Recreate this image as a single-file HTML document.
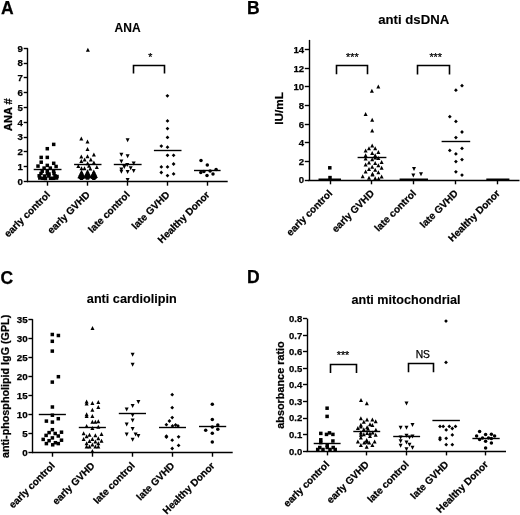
<!DOCTYPE html>
<html><head><meta charset="utf-8"><title>Figure</title>
<style>html,body{margin:0;padding:0;background:#fff;}svg{display:block;will-change:transform;}text{stroke:#000;stroke-width:0.25px;}.t{stroke-width:0.12px;}</style>
</head><body>
<svg width="520" height="515" viewBox="0 0 520 515" font-family="Liberation Sans, sans-serif">
<rect width="520" height="515" fill="#fff"/>
<line x1="27.50" y1="48.20" x2="27.50" y2="182.10" stroke="#000" stroke-width="1.4"/>
<line x1="27.20" y1="181.50" x2="227.70" y2="181.50" stroke="#000" stroke-width="1.4"/>
<line x1="23.70" y1="181.50" x2="27.90" y2="181.50" stroke="#000" stroke-width="1.4"/>
<text x="23.00" y="184.89" font-size="9.7" font-weight="bold" text-anchor="end" >0</text>
<line x1="23.70" y1="166.50" x2="27.90" y2="166.50" stroke="#000" stroke-width="1.4"/>
<text x="23.00" y="170.09" font-size="9.7" font-weight="bold" text-anchor="end" >1</text>
<line x1="23.70" y1="151.50" x2="27.90" y2="151.50" stroke="#000" stroke-width="1.4"/>
<text x="23.00" y="155.29" font-size="9.7" font-weight="bold" text-anchor="end" >2</text>
<line x1="23.70" y1="137.50" x2="27.90" y2="137.50" stroke="#000" stroke-width="1.4"/>
<text x="23.00" y="140.49" font-size="9.7" font-weight="bold" text-anchor="end" >3</text>
<line x1="23.70" y1="122.50" x2="27.90" y2="122.50" stroke="#000" stroke-width="1.4"/>
<text x="23.00" y="125.69" font-size="9.7" font-weight="bold" text-anchor="end" >4</text>
<line x1="23.70" y1="107.50" x2="27.90" y2="107.50" stroke="#000" stroke-width="1.4"/>
<text x="23.00" y="110.89" font-size="9.7" font-weight="bold" text-anchor="end" >5</text>
<line x1="23.70" y1="92.50" x2="27.90" y2="92.50" stroke="#000" stroke-width="1.4"/>
<text x="23.00" y="96.09" font-size="9.7" font-weight="bold" text-anchor="end" >6</text>
<line x1="23.70" y1="77.50" x2="27.90" y2="77.50" stroke="#000" stroke-width="1.4"/>
<text x="23.00" y="81.29" font-size="9.7" font-weight="bold" text-anchor="end" >7</text>
<line x1="23.70" y1="63.50" x2="27.90" y2="63.50" stroke="#000" stroke-width="1.4"/>
<text x="23.00" y="66.49" font-size="9.7" font-weight="bold" text-anchor="end" >8</text>
<line x1="23.70" y1="48.50" x2="27.90" y2="48.50" stroke="#000" stroke-width="1.4"/>
<text x="23.00" y="51.69" font-size="9.7" font-weight="bold" text-anchor="end" >9</text>
<line x1="47.50" y1="181.40" x2="47.50" y2="185.70" stroke="#000" stroke-width="1.4"/>
<line x1="87.50" y1="181.40" x2="87.50" y2="185.70" stroke="#000" stroke-width="1.4"/>
<line x1="127.50" y1="181.40" x2="127.50" y2="185.70" stroke="#000" stroke-width="1.4"/>
<line x1="167.50" y1="181.40" x2="167.50" y2="185.70" stroke="#000" stroke-width="1.4"/>
<line x1="207.50" y1="181.40" x2="207.50" y2="185.70" stroke="#000" stroke-width="1.4"/>
<text x="1.00" y="13.70" font-size="17.5" font-weight="bold" text-anchor="start" >A</text>
<text x="127.60" y="31.90" font-size="12" font-weight="bold" text-anchor="middle" textLength="26" lengthAdjust="spacingAndGlyphs"  class="t">ANA</text>
<text transform="translate(11.90,114.60) rotate(-90)" font-size="11" font-weight="bold" text-anchor="middle" >ANA #</text>
<path d="M133.50 73.60V65.50H164.50V73.60" fill="none" stroke="#000" stroke-width="1.6"/>
<text x="150.20" y="60.60" font-size="10.5" font-weight="normal" text-anchor="middle" >*</text>
<text transform="translate(50.70,195.40) rotate(-45)" font-size="10" font-weight="bold" text-anchor="end" >early control</text>
<text transform="translate(90.50,195.40) rotate(-45)" font-size="10" font-weight="bold" text-anchor="end" >early GVHD</text>
<text transform="translate(130.40,195.40) rotate(-45)" font-size="10" font-weight="bold" text-anchor="end" >late control</text>
<text transform="translate(170.30,195.40) rotate(-45)" font-size="10" font-weight="bold" text-anchor="end" >late GVHD</text>
<text transform="translate(210.20,195.40) rotate(-45)" font-size="10" font-weight="bold" text-anchor="end" >Healthy Donor</text>
<line x1="309.50" y1="39.90" x2="309.50" y2="180.70" stroke="#000" stroke-width="1.4"/>
<line x1="308.30" y1="180.50" x2="519.50" y2="180.50" stroke="#000" stroke-width="1.4"/>
<line x1="304.80" y1="180.50" x2="309.00" y2="180.50" stroke="#000" stroke-width="1.4"/>
<text x="304.10" y="183.46" font-size="9.6" font-weight="bold" text-anchor="end" >0</text>
<line x1="304.80" y1="161.50" x2="309.00" y2="161.50" stroke="#000" stroke-width="1.4"/>
<text x="304.10" y="164.84" font-size="9.6" font-weight="bold" text-anchor="end" >2</text>
<line x1="304.80" y1="142.50" x2="309.00" y2="142.50" stroke="#000" stroke-width="1.4"/>
<text x="304.10" y="146.22" font-size="9.6" font-weight="bold" text-anchor="end" >4</text>
<line x1="304.80" y1="124.50" x2="309.00" y2="124.50" stroke="#000" stroke-width="1.4"/>
<text x="304.10" y="127.60" font-size="9.6" font-weight="bold" text-anchor="end" >6</text>
<line x1="304.80" y1="105.50" x2="309.00" y2="105.50" stroke="#000" stroke-width="1.4"/>
<text x="304.10" y="108.98" font-size="9.6" font-weight="bold" text-anchor="end" >8</text>
<line x1="304.80" y1="86.50" x2="309.00" y2="86.50" stroke="#000" stroke-width="1.4"/>
<text x="304.10" y="90.36" font-size="9.6" font-weight="bold" text-anchor="end" >10</text>
<line x1="304.80" y1="68.50" x2="309.00" y2="68.50" stroke="#000" stroke-width="1.4"/>
<text x="304.10" y="71.74" font-size="9.6" font-weight="bold" text-anchor="end" >12</text>
<line x1="304.80" y1="49.50" x2="309.00" y2="49.50" stroke="#000" stroke-width="1.4"/>
<text x="304.10" y="53.12" font-size="9.6" font-weight="bold" text-anchor="end" >14</text>
<line x1="330.50" y1="180.00" x2="330.50" y2="184.30" stroke="#000" stroke-width="1.4"/>
<line x1="371.50" y1="180.00" x2="371.50" y2="184.30" stroke="#000" stroke-width="1.4"/>
<line x1="413.50" y1="180.00" x2="413.50" y2="184.30" stroke="#000" stroke-width="1.4"/>
<line x1="455.50" y1="180.00" x2="455.50" y2="184.30" stroke="#000" stroke-width="1.4"/>
<line x1="497.50" y1="180.00" x2="497.50" y2="184.30" stroke="#000" stroke-width="1.4"/>
<text x="247.00" y="13.70" font-size="17.5" font-weight="bold" text-anchor="start" >B</text>
<text x="413.70" y="23.50" font-size="12.8" font-weight="bold" text-anchor="middle" textLength="71" lengthAdjust="spacingAndGlyphs"  class="t">anti dsDNA</text>
<text transform="translate(283.20,108.40) rotate(-90)" font-size="10.8" font-weight="bold" text-anchor="middle" textLength="32.6" lengthAdjust="spacingAndGlyphs" >IU/mL</text>
<path d="M336.50 74.20V65.50H367.50V74.20" fill="none" stroke="#000" stroke-width="1.6"/>
<path d="M417.50 74.60V65.50H449.50V74.60" fill="none" stroke="#000" stroke-width="1.6"/>
<text x="352.30" y="60.80" font-size="10.8" font-weight="normal" text-anchor="middle" >***</text>
<text x="435.70" y="60.80" font-size="10.8" font-weight="normal" text-anchor="middle" >***</text>
<text transform="translate(332.90,194.00) rotate(-45)" font-size="10" font-weight="bold" text-anchor="end" >early control</text>
<text transform="translate(374.80,194.00) rotate(-45)" font-size="10" font-weight="bold" text-anchor="end" >early GVHD</text>
<text transform="translate(416.70,194.00) rotate(-45)" font-size="10" font-weight="bold" text-anchor="end" >late control</text>
<text transform="translate(458.70,194.00) rotate(-45)" font-size="10" font-weight="bold" text-anchor="end" >late GVHD</text>
<text transform="translate(500.60,194.00) rotate(-45)" font-size="10" font-weight="bold" text-anchor="end" >Healthy Donor</text>
<line x1="32.50" y1="319.15" x2="32.50" y2="453.10" stroke="#000" stroke-width="1.4"/>
<line x1="31.90" y1="452.50" x2="232.70" y2="452.50" stroke="#000" stroke-width="1.4"/>
<line x1="28.40" y1="452.50" x2="32.60" y2="452.50" stroke="#000" stroke-width="1.4"/>
<text x="27.70" y="455.93" font-size="9.8" font-weight="bold" text-anchor="end" >0</text>
<line x1="28.40" y1="433.50" x2="32.60" y2="433.50" stroke="#000" stroke-width="1.4"/>
<text x="27.70" y="436.89" font-size="9.8" font-weight="bold" text-anchor="end" >5</text>
<line x1="28.40" y1="414.50" x2="32.60" y2="414.50" stroke="#000" stroke-width="1.4"/>
<text x="27.70" y="417.86" font-size="9.8" font-weight="bold" text-anchor="end" >10</text>
<line x1="28.40" y1="395.50" x2="32.60" y2="395.50" stroke="#000" stroke-width="1.4"/>
<text x="27.70" y="398.82" font-size="9.8" font-weight="bold" text-anchor="end" >15</text>
<line x1="28.40" y1="376.50" x2="32.60" y2="376.50" stroke="#000" stroke-width="1.4"/>
<text x="27.70" y="379.79" font-size="9.8" font-weight="bold" text-anchor="end" >20</text>
<line x1="28.40" y1="357.50" x2="32.60" y2="357.50" stroke="#000" stroke-width="1.4"/>
<text x="27.70" y="360.75" font-size="9.8" font-weight="bold" text-anchor="end" >25</text>
<line x1="28.40" y1="338.50" x2="32.60" y2="338.50" stroke="#000" stroke-width="1.4"/>
<text x="27.70" y="341.72" font-size="9.8" font-weight="bold" text-anchor="end" >30</text>
<line x1="28.40" y1="319.50" x2="32.60" y2="319.50" stroke="#000" stroke-width="1.4"/>
<text x="27.70" y="322.68" font-size="9.8" font-weight="bold" text-anchor="end" >35</text>
<line x1="52.50" y1="452.40" x2="52.50" y2="456.70" stroke="#000" stroke-width="1.4"/>
<line x1="92.50" y1="452.40" x2="92.50" y2="456.70" stroke="#000" stroke-width="1.4"/>
<line x1="132.50" y1="452.40" x2="132.50" y2="456.70" stroke="#000" stroke-width="1.4"/>
<line x1="172.50" y1="452.40" x2="172.50" y2="456.70" stroke="#000" stroke-width="1.4"/>
<line x1="212.50" y1="452.40" x2="212.50" y2="456.70" stroke="#000" stroke-width="1.4"/>
<text x="0.40" y="283.60" font-size="17.5" font-weight="bold" text-anchor="start" >C</text>
<text x="131.85" y="303.40" font-size="12.4" font-weight="bold" text-anchor="middle" textLength="90" lengthAdjust="spacingAndGlyphs"  class="t">anti cardiolipin</text>
<text transform="translate(8.70,386.40) rotate(-90)" font-size="10.75" font-weight="bold" text-anchor="middle" >anti-phospholipid IgG (GPL)</text>
<text transform="translate(55.50,466.40) rotate(-45)" font-size="10" font-weight="bold" text-anchor="end" >early control</text>
<text transform="translate(95.40,466.40) rotate(-45)" font-size="10" font-weight="bold" text-anchor="end" >early GVHD</text>
<text transform="translate(135.50,466.40) rotate(-45)" font-size="10" font-weight="bold" text-anchor="end" >late control</text>
<text transform="translate(175.20,466.40) rotate(-45)" font-size="10" font-weight="bold" text-anchor="end" >late GVHD</text>
<text transform="translate(215.20,466.40) rotate(-45)" font-size="10" font-weight="bold" text-anchor="end" >Healthy Donor</text>
<line x1="307.50" y1="318.70" x2="307.50" y2="451.80" stroke="#000" stroke-width="1.4"/>
<line x1="306.50" y1="451.50" x2="506.00" y2="451.50" stroke="#000" stroke-width="1.4"/>
<line x1="303.00" y1="451.50" x2="307.20" y2="451.50" stroke="#000" stroke-width="1.4"/>
<text x="302.30" y="454.52" font-size="9.5" font-weight="bold" text-anchor="end" >0.0</text>
<line x1="303.00" y1="434.50" x2="307.20" y2="434.50" stroke="#000" stroke-width="1.4"/>
<text x="302.30" y="437.97" font-size="9.5" font-weight="bold" text-anchor="end" >0.1</text>
<line x1="303.00" y1="418.50" x2="307.20" y2="418.50" stroke="#000" stroke-width="1.4"/>
<text x="302.30" y="421.42" font-size="9.5" font-weight="bold" text-anchor="end" >0.2</text>
<line x1="303.00" y1="401.50" x2="307.20" y2="401.50" stroke="#000" stroke-width="1.4"/>
<text x="302.30" y="404.87" font-size="9.5" font-weight="bold" text-anchor="end" >0.3</text>
<line x1="303.00" y1="384.50" x2="307.20" y2="384.50" stroke="#000" stroke-width="1.4"/>
<text x="302.30" y="388.32" font-size="9.5" font-weight="bold" text-anchor="end" >0.4</text>
<line x1="303.00" y1="368.50" x2="307.20" y2="368.50" stroke="#000" stroke-width="1.4"/>
<text x="302.30" y="371.77" font-size="9.5" font-weight="bold" text-anchor="end" >0.5</text>
<line x1="303.00" y1="351.50" x2="307.20" y2="351.50" stroke="#000" stroke-width="1.4"/>
<text x="302.30" y="355.22" font-size="9.5" font-weight="bold" text-anchor="end" >0.6</text>
<line x1="303.00" y1="335.50" x2="307.20" y2="335.50" stroke="#000" stroke-width="1.4"/>
<text x="302.30" y="338.67" font-size="9.5" font-weight="bold" text-anchor="end" >0.7</text>
<line x1="303.00" y1="318.50" x2="307.20" y2="318.50" stroke="#000" stroke-width="1.4"/>
<text x="302.30" y="322.12" font-size="9.5" font-weight="bold" text-anchor="end" >0.8</text>
<line x1="327.50" y1="451.10" x2="327.50" y2="455.40" stroke="#000" stroke-width="1.4"/>
<line x1="366.50" y1="451.10" x2="366.50" y2="455.40" stroke="#000" stroke-width="1.4"/>
<line x1="406.50" y1="451.10" x2="406.50" y2="455.40" stroke="#000" stroke-width="1.4"/>
<line x1="446.50" y1="451.10" x2="446.50" y2="455.40" stroke="#000" stroke-width="1.4"/>
<line x1="485.50" y1="451.10" x2="485.50" y2="455.40" stroke="#000" stroke-width="1.4"/>
<text x="247.00" y="283.20" font-size="17.5" font-weight="bold" text-anchor="start" >D</text>
<text x="406.05" y="303.70" font-size="12.2" font-weight="bold" text-anchor="middle" textLength="109.2" lengthAdjust="spacingAndGlyphs"  class="t">anti mitochondrial</text>
<text transform="translate(283.60,385.00) rotate(-90)" font-size="10.85" font-weight="bold" text-anchor="middle" >absorbance ratio</text>
<path d="M330.50 373.00V364.50H356.50V373.00" fill="none" stroke="#000" stroke-width="1.6"/>
<path d="M408.50 372.30V363.50H433.50V372.30" fill="none" stroke="#000" stroke-width="1.6"/>
<text x="343.00" y="359.00" font-size="10.8" font-weight="normal" text-anchor="middle" >***</text>
<text x="422.80" y="358.40" font-size="10.3" font-weight="normal" text-anchor="middle" >NS</text>
<text transform="translate(329.90,465.10) rotate(-45)" font-size="10" font-weight="bold" text-anchor="end" >early control</text>
<text transform="translate(369.70,465.10) rotate(-45)" font-size="10" font-weight="bold" text-anchor="end" >early GVHD</text>
<text transform="translate(409.50,465.10) rotate(-45)" font-size="10" font-weight="bold" text-anchor="end" >late control</text>
<text transform="translate(449.10,465.10) rotate(-45)" font-size="10" font-weight="bold" text-anchor="end" >late GVHD</text>
<text transform="translate(488.70,465.10) rotate(-45)" font-size="10" font-weight="bold" text-anchor="end" >Healthy Donor</text>
<g fill="#000">
<rect x="51.95" y="142.65" width="3.50" height="3.50"/>
<rect x="45.55" y="146.95" width="3.50" height="3.50"/>
<rect x="39.45" y="155.65" width="3.50" height="3.50"/>
<rect x="45.55" y="155.65" width="3.50" height="3.50"/>
<rect x="39.45" y="160.45" width="3.50" height="3.50"/>
<rect x="51.95" y="161.55" width="3.50" height="3.50"/>
<rect x="36.25" y="164.35" width="3.50" height="3.50"/>
<rect x="45.55" y="163.65" width="3.50" height="3.50"/>
<rect x="54.35" y="164.75" width="3.50" height="3.50"/>
<rect x="42.35" y="166.35" width="3.50" height="3.50"/>
<rect x="48.55" y="166.35" width="3.50" height="3.50"/>
<rect x="40.45" y="169.45" width="3.50" height="3.50"/>
<rect x="45.55" y="169.45" width="3.50" height="3.50"/>
<rect x="51.85" y="169.45" width="3.50" height="3.50"/>
<rect x="39.25" y="171.75" width="3.50" height="3.50"/>
<rect x="45.75" y="171.75" width="3.50" height="3.50"/>
<rect x="47.25" y="172.25" width="3.50" height="3.50"/>
<rect x="52.25" y="171.75" width="3.50" height="3.50"/>
<rect x="37.45" y="174.05" width="3.50" height="3.50"/>
<rect x="43.05" y="174.25" width="3.50" height="3.50"/>
<rect x="47.05" y="174.25" width="3.50" height="3.50"/>
<rect x="53.25" y="174.05" width="3.50" height="3.50"/>
<rect x="55.25" y="174.75" width="3.50" height="3.50"/>
<rect x="38.05" y="176.25" width="3.50" height="3.50"/>
<rect x="41.05" y="176.55" width="3.50" height="3.50"/>
<rect x="43.75" y="176.75" width="3.50" height="3.50"/>
<rect x="48.75" y="176.55" width="3.50" height="3.50"/>
<rect x="51.75" y="176.55" width="3.50" height="3.50"/>
<rect x="54.75" y="176.25" width="3.50" height="3.50"/>
<path d="M87.90 47.68L89.90 51.68L85.90 51.68Z"/>
<path d="M81.30 136.38L83.30 140.38L79.30 140.38Z"/>
<path d="M87.50 139.38L89.50 143.38L85.50 143.38Z"/>
<path d="M87.50 146.88L89.50 150.88L85.50 150.88Z"/>
<path d="M93.90 152.48L95.90 156.48L91.90 156.48Z"/>
<path d="M81.30 154.48L83.30 158.48L79.30 158.48Z"/>
<path d="M87.50 154.28L89.50 158.28L85.50 158.28Z"/>
<path d="M84.60 157.38L86.60 161.38L82.60 161.38Z"/>
<path d="M90.80 157.38L92.80 161.38L88.80 161.38Z"/>
<path d="M81.30 158.98L83.30 162.98L79.30 162.98Z"/>
<path d="M93.90 160.38L95.90 164.38L91.90 164.38Z"/>
<path d="M87.60 161.28L89.60 165.28L85.60 165.28Z"/>
<path d="M78.30 163.98L80.30 167.98L76.30 167.98Z"/>
<path d="M81.50 166.18L83.50 170.18L79.50 170.18Z"/>
<path d="M84.50 166.18L86.50 170.18L82.50 170.18Z"/>
<path d="M89.00 163.68L91.00 167.68L87.00 167.68Z"/>
<path d="M90.30 166.48L92.30 170.48L88.30 170.48Z"/>
<path d="M96.80 164.98L98.80 168.98L94.80 168.98Z"/>
<path d="M81.50 169.68L83.50 173.68L79.50 173.68Z"/>
<path d="M80.50 171.88L82.50 175.88L78.50 175.88Z"/>
<path d="M82.50 171.88L84.50 175.88L80.50 175.88Z"/>
<path d="M81.50 172.68L83.50 176.68L79.50 176.68Z"/>
<path d="M79.40 174.18L81.40 178.18L77.40 178.18Z"/>
<path d="M81.50 174.18L83.50 178.18L79.50 178.18Z"/>
<path d="M83.60 174.18L85.60 178.18L81.60 178.18Z"/>
<path d="M80.40 175.08L82.40 179.08L78.40 179.08Z"/>
<path d="M82.60 175.08L84.60 179.08L80.60 179.08Z"/>
<path d="M81.50 176.08L83.50 180.08L79.50 180.08Z"/>
<path d="M87.50 169.28L89.50 173.28L85.50 173.28Z"/>
<path d="M86.50 171.48L88.50 175.48L84.50 175.48Z"/>
<path d="M88.50 171.48L90.50 175.48L86.50 175.48Z"/>
<path d="M87.50 172.28L89.50 176.28L85.50 176.28Z"/>
<path d="M85.40 173.78L87.40 177.78L83.40 177.78Z"/>
<path d="M87.50 173.78L89.50 177.78L85.50 177.78Z"/>
<path d="M89.60 173.78L91.60 177.78L87.60 177.78Z"/>
<path d="M86.40 174.68L88.40 178.68L84.40 178.68Z"/>
<path d="M88.60 174.68L90.60 178.68L86.60 178.68Z"/>
<path d="M87.50 175.68L89.50 179.68L85.50 179.68Z"/>
<path d="M93.80 169.58L95.80 173.58L91.80 173.58Z"/>
<path d="M92.80 171.78L94.80 175.78L90.80 175.78Z"/>
<path d="M94.80 171.78L96.80 175.78L92.80 175.78Z"/>
<path d="M93.80 172.58L95.80 176.58L91.80 176.58Z"/>
<path d="M91.70 174.08L93.70 178.08L89.70 178.08Z"/>
<path d="M93.80 174.08L95.80 178.08L91.80 178.08Z"/>
<path d="M95.90 174.08L97.90 178.08L93.90 178.08Z"/>
<path d="M92.70 174.98L94.70 178.98L90.70 178.98Z"/>
<path d="M94.90 174.98L96.90 178.98L92.90 178.98Z"/>
<path d="M93.80 175.98L95.80 179.98L91.80 179.98Z"/>
<path d="M127.60 142.22L129.60 138.22L125.60 138.22Z"/>
<path d="M121.40 156.82L123.40 152.82L119.40 152.82Z"/>
<path d="M127.60 158.22L129.60 154.22L125.60 154.22Z"/>
<path d="M121.40 163.62L123.40 159.62L119.40 159.62Z"/>
<path d="M133.70 165.52L135.70 161.52L131.70 161.52Z"/>
<path d="M127.20 167.12L129.20 163.12L125.20 163.12Z"/>
<path d="M124.30 169.02L126.30 165.02L122.30 165.02Z"/>
<path d="M130.70 170.22L132.70 166.22L128.70 166.22Z"/>
<path d="M121.40 171.42L123.40 167.42L119.40 167.42Z"/>
<path d="M121.40 173.72L123.40 169.72L119.40 169.72Z"/>
<path d="M127.60 174.02L129.60 170.02L125.60 170.02Z"/>
<path d="M133.70 173.12L135.70 169.12L131.70 169.12Z"/>
<path d="M127.60 181.92L129.60 177.92L125.60 177.92Z"/>
<path d="M167.40 93.91L169.29 95.80L167.40 97.69L165.51 95.80Z"/>
<path d="M167.50 119.01L169.39 120.90L167.50 122.79L165.61 120.90Z"/>
<path d="M167.50 126.71L169.39 128.60L167.50 130.49L165.61 128.60Z"/>
<path d="M167.50 135.51L169.39 137.40L167.50 139.29L165.61 137.40Z"/>
<path d="M161.30 144.21L163.19 146.10L161.30 147.99L159.41 146.10Z"/>
<path d="M167.50 145.31L169.39 147.20L167.50 149.09L165.61 147.20Z"/>
<path d="M167.50 153.41L169.39 155.30L167.50 157.19L165.61 155.30Z"/>
<path d="M173.60 153.41L175.49 155.30L173.60 157.19L171.71 155.30Z"/>
<path d="M173.60 162.11L175.49 164.00L173.60 165.89L171.71 164.00Z"/>
<path d="M161.30 165.01L163.19 166.90L161.30 168.79L159.41 166.90Z"/>
<path d="M167.50 165.01L169.39 166.90L167.50 168.79L165.61 166.90Z"/>
<path d="M161.30 170.61L163.19 172.50L161.30 174.39L159.41 172.50Z"/>
<path d="M173.60 172.01L175.49 173.90L173.60 175.79L171.71 173.90Z"/>
<path d="M167.50 173.71L169.39 175.60L167.50 177.49L165.61 175.60Z"/>
<circle cx="201.00" cy="160.50" r="1.75"/>
<circle cx="207.30" cy="165.10" r="1.75"/>
<circle cx="216.10" cy="169.40" r="1.75"/>
<circle cx="200.80" cy="172.50" r="1.75"/>
<circle cx="203.90" cy="171.40" r="1.75"/>
<circle cx="210.10" cy="171.00" r="1.75"/>
<circle cx="213.00" cy="174.10" r="1.75"/>
<circle cx="207.00" cy="175.50" r="1.75"/>
<rect x="328.05" y="166.05" width="3.50" height="3.50"/>
<rect x="328.25" y="175.85" width="3.50" height="3.50"/>
<path d="M378.30 84.38L380.30 88.38L376.30 88.38Z"/>
<path d="M371.90 88.68L373.90 92.68L369.90 92.68Z"/>
<path d="M365.60 111.98L367.60 115.98L363.60 115.98Z"/>
<path d="M372.20 117.78L374.20 121.78L370.20 121.78Z"/>
<path d="M372.20 128.48L374.20 132.48L370.20 132.48Z"/>
<path d="M372.20 143.58L374.20 147.58L370.20 147.58Z"/>
<path d="M369.00 146.28L371.00 150.28L367.00 150.28Z"/>
<path d="M375.20 146.28L377.20 150.28L373.20 150.28Z"/>
<path d="M365.60 148.58L367.60 152.58L363.60 152.58Z"/>
<path d="M372.20 150.98L374.20 154.98L370.20 154.98Z"/>
<path d="M378.40 149.88L380.40 153.88L376.40 153.88Z"/>
<path d="M365.60 153.18L367.60 157.18L363.60 157.18Z"/>
<path d="M375.20 153.18L377.20 157.18L373.20 157.18Z"/>
<path d="M365.60 156.48L367.60 160.48L363.60 160.48Z"/>
<path d="M372.20 157.28L374.20 161.28L370.20 161.28Z"/>
<path d="M375.20 155.58L377.20 159.58L373.20 159.58Z"/>
<path d="M378.40 155.98L380.40 159.98L376.40 159.98Z"/>
<path d="M381.60 159.98L383.60 163.98L379.60 163.98Z"/>
<path d="M369.00 160.58L371.00 164.58L367.00 164.58Z"/>
<path d="M365.60 162.58L367.60 166.58L363.60 166.58Z"/>
<path d="M375.20 161.08L377.20 165.08L373.20 165.08Z"/>
<path d="M378.40 163.18L380.40 167.18L376.40 167.18Z"/>
<path d="M372.20 164.78L374.20 168.78L370.20 168.78Z"/>
<path d="M369.00 166.88L371.00 170.88L367.00 170.88Z"/>
<path d="M381.60 165.78L383.60 169.78L379.60 169.78Z"/>
<path d="M375.20 167.78L377.20 171.78L373.20 171.78Z"/>
<path d="M365.60 169.58L367.60 173.58L363.60 173.58Z"/>
<path d="M372.50 171.68L374.50 175.68L370.50 175.68Z"/>
<path d="M372.50 172.58L374.50 176.58L370.50 176.58Z"/>
<path d="M378.40 170.18L380.40 174.18L376.40 174.18Z"/>
<path d="M362.70 174.18L364.70 178.18L360.70 178.18Z"/>
<path d="M381.60 174.38L383.60 178.38L379.60 178.38Z"/>
<path d="M369.00 175.68L371.00 179.68L367.00 179.68Z"/>
<path d="M375.20 176.18L377.20 180.18L373.20 180.18Z"/>
<path d="M378.60 176.48L380.60 180.48L376.60 180.48Z"/>
<path d="M414.00 171.07L416.00 167.07L412.00 167.07Z"/>
<path d="M413.30 177.52L415.30 173.52L411.30 173.52Z"/>
<path d="M421.00 176.32L423.00 172.32L419.00 172.32Z"/>
<path d="M462.00 83.81L463.89 85.70L462.00 87.59L460.11 85.70Z"/>
<path d="M455.90 88.31L457.79 90.20L455.90 92.09L454.01 90.20Z"/>
<path d="M449.80 114.81L451.69 116.70L449.80 118.59L447.91 116.70Z"/>
<path d="M455.90 119.51L457.79 121.40L455.90 123.29L454.01 121.40Z"/>
<path d="M462.00 130.11L463.89 132.00L462.00 133.89L460.11 132.00Z"/>
<path d="M455.90 135.71L457.79 137.60L455.90 139.49L454.01 137.60Z"/>
<path d="M449.80 148.51L451.69 150.40L449.80 152.29L447.91 150.40Z"/>
<path d="M462.00 146.51L463.89 148.40L462.00 150.29L460.11 148.40Z"/>
<path d="M455.90 152.01L457.79 153.90L455.90 155.79L454.01 153.90Z"/>
<path d="M462.00 157.71L463.89 159.60L462.00 161.49L460.11 159.60Z"/>
<path d="M455.90 159.71L457.79 161.60L455.90 163.49L454.01 161.60Z"/>
<path d="M455.90 169.91L457.79 171.80L455.90 173.69L454.01 171.80Z"/>
<path d="M462.00 173.21L463.89 175.10L462.00 176.99L460.11 175.10Z"/>
<rect x="50.55" y="332.75" width="3.50" height="3.50"/>
<rect x="56.65" y="333.75" width="3.50" height="3.50"/>
<rect x="50.55" y="339.55" width="3.50" height="3.50"/>
<rect x="50.55" y="349.35" width="3.50" height="3.50"/>
<rect x="56.65" y="374.95" width="3.50" height="3.50"/>
<rect x="50.55" y="380.35" width="3.50" height="3.50"/>
<rect x="50.65" y="405.25" width="3.50" height="3.50"/>
<rect x="50.65" y="413.45" width="3.50" height="3.50"/>
<rect x="56.55" y="416.95" width="3.50" height="3.50"/>
<rect x="44.65" y="419.35" width="3.50" height="3.50"/>
<rect x="50.65" y="420.35" width="3.50" height="3.50"/>
<rect x="50.65" y="427.95" width="3.50" height="3.50"/>
<rect x="47.35" y="430.85" width="3.50" height="3.50"/>
<rect x="53.45" y="431.75" width="3.50" height="3.50"/>
<rect x="59.75" y="430.45" width="3.50" height="3.50"/>
<rect x="44.35" y="433.65" width="3.50" height="3.50"/>
<rect x="56.55" y="434.25" width="3.50" height="3.50"/>
<rect x="50.65" y="436.15" width="3.50" height="3.50"/>
<rect x="41.45" y="437.65" width="3.50" height="3.50"/>
<rect x="47.35" y="438.95" width="3.50" height="3.50"/>
<rect x="59.75" y="438.45" width="3.50" height="3.50"/>
<rect x="44.65" y="441.85" width="3.50" height="3.50"/>
<rect x="50.95" y="443.05" width="3.50" height="3.50"/>
<rect x="53.65" y="440.95" width="3.50" height="3.50"/>
<rect x="56.55" y="441.85" width="3.50" height="3.50"/>
<path d="M92.50 326.08L94.50 330.08L90.50 330.08Z"/>
<path d="M86.60 399.58L88.60 403.58L84.60 403.58Z"/>
<path d="M86.60 401.48L88.60 405.48L84.60 405.48Z"/>
<path d="M92.40 400.88L94.40 404.88L90.40 404.88Z"/>
<path d="M98.30 399.88L100.30 403.88L96.30 403.88Z"/>
<path d="M98.30 404.88L100.30 408.88L96.30 408.88Z"/>
<path d="M92.40 407.78L94.40 411.78L90.40 411.78Z"/>
<path d="M86.60 412.28L88.60 416.28L84.60 416.28Z"/>
<path d="M86.60 413.88L88.60 417.88L84.60 417.88Z"/>
<path d="M92.40 413.88L94.40 417.88L90.40 417.88Z"/>
<path d="M92.40 419.78L94.40 423.78L90.40 423.78Z"/>
<path d="M95.40 419.78L97.40 423.78L93.40 423.78Z"/>
<path d="M98.30 419.18L100.30 423.18L96.30 423.18Z"/>
<path d="M86.60 423.98L88.60 427.98L84.60 427.98Z"/>
<path d="M92.40 426.08L94.40 430.08L90.40 430.08Z"/>
<path d="M98.30 424.68L100.30 428.68L96.30 428.68Z"/>
<path d="M83.60 431.18L85.60 435.18L81.60 435.18Z"/>
<path d="M86.60 434.28L88.60 438.28L84.60 438.28Z"/>
<path d="M89.50 432.78L91.50 436.78L87.50 436.78Z"/>
<path d="M95.40 433.28L97.40 437.28L93.40 437.28Z"/>
<path d="M101.50 432.08L103.50 436.08L99.50 436.08Z"/>
<path d="M83.60 437.08L85.60 441.08L81.60 441.08Z"/>
<path d="M89.50 439.08L91.50 443.08L87.50 443.08Z"/>
<path d="M92.40 436.88L94.40 440.88L90.40 440.88Z"/>
<path d="M98.30 436.18L100.30 440.18L96.30 440.18Z"/>
<path d="M95.40 439.58L97.40 443.58L93.40 443.58Z"/>
<path d="M101.50 438.68L103.50 442.68L99.50 442.68Z"/>
<path d="M86.60 441.28L88.60 445.28L84.60 445.28Z"/>
<path d="M98.30 441.28L100.30 445.28L96.30 445.28Z"/>
<path d="M92.40 442.48L94.40 446.48L90.40 446.48Z"/>
<path d="M86.60 444.38L88.60 448.38L84.60 448.38Z"/>
<path d="M89.50 444.38L91.50 448.38L87.50 448.38Z"/>
<path d="M95.40 444.38L97.40 448.38L93.40 448.38Z"/>
<path d="M98.30 444.38L100.30 448.38L96.30 448.38Z"/>
<path d="M92.40 448.88L94.40 452.88L90.40 452.88Z"/>
<path d="M132.60 356.72L134.60 352.72L130.60 352.72Z"/>
<path d="M132.60 366.72L134.60 362.72L130.60 362.72Z"/>
<path d="M138.40 403.92L140.40 399.92L136.40 399.92Z"/>
<path d="M132.60 407.92L134.60 403.92L130.60 403.92Z"/>
<path d="M126.70 411.62L128.70 407.62L124.70 407.62Z"/>
<path d="M132.60 417.22L134.60 413.22L130.60 413.22Z"/>
<path d="M132.60 422.52L134.60 418.52L130.60 418.52Z"/>
<path d="M126.70 426.52L128.70 422.52L124.70 422.52Z"/>
<path d="M132.60 431.12L134.60 427.12L130.60 427.12Z"/>
<path d="M126.70 436.52L128.70 432.52L124.70 432.52Z"/>
<path d="M135.60 436.52L137.60 432.52L133.60 432.52Z"/>
<path d="M138.40 438.12L140.40 434.12L136.40 434.12Z"/>
<path d="M132.60 441.82L134.60 437.82L130.60 437.82Z"/>
<path d="M172.20 392.81L174.09 394.70L172.20 396.59L170.31 394.70Z"/>
<path d="M172.20 405.81L174.09 407.70L172.20 409.59L170.31 407.70Z"/>
<path d="M172.20 415.71L174.09 417.60L172.20 419.49L170.31 417.60Z"/>
<path d="M169.40 419.11L171.29 421.00L169.40 422.89L167.51 421.00Z"/>
<path d="M166.40 422.81L168.29 424.70L166.40 426.59L164.51 424.70Z"/>
<path d="M172.50 424.01L174.39 425.90L172.50 427.79L170.61 425.90Z"/>
<path d="M175.60 423.11L177.49 425.00L175.60 426.89L173.71 425.00Z"/>
<path d="M178.00 424.01L179.89 425.90L178.00 427.79L176.11 425.90Z"/>
<path d="M166.40 434.31L168.29 436.20L166.40 438.09L164.51 436.20Z"/>
<path d="M166.40 435.11L168.29 437.00L166.40 438.89L164.51 437.00Z"/>
<path d="M178.60 434.91L180.49 436.80L178.60 438.69L176.71 436.80Z"/>
<path d="M172.20 438.31L174.09 440.20L172.20 442.09L170.31 440.20Z"/>
<path d="M178.60 443.51L180.49 445.40L178.60 447.29L176.71 445.40Z"/>
<path d="M172.20 446.61L174.09 448.50L172.20 450.39L170.31 448.50Z"/>
<circle cx="212.30" cy="404.20" r="1.75"/>
<circle cx="212.30" cy="419.50" r="1.75"/>
<circle cx="217.80" cy="425.00" r="1.75"/>
<circle cx="212.30" cy="427.10" r="1.75"/>
<circle cx="205.70" cy="430.20" r="1.75"/>
<circle cx="217.80" cy="429.30" r="1.75"/>
<circle cx="212.30" cy="433.30" r="1.75"/>
<circle cx="212.30" cy="442.00" r="1.75"/>
<rect x="325.35" y="406.45" width="3.50" height="3.50"/>
<rect x="325.35" y="414.65" width="3.50" height="3.50"/>
<rect x="319.05" y="431.65" width="3.50" height="3.50"/>
<rect x="324.75" y="432.65" width="3.50" height="3.50"/>
<rect x="327.75" y="431.15" width="3.50" height="3.50"/>
<rect x="331.15" y="432.65" width="3.50" height="3.50"/>
<rect x="319.05" y="438.05" width="3.50" height="3.50"/>
<rect x="331.15" y="439.25" width="3.50" height="3.50"/>
<rect x="319.05" y="440.85" width="3.50" height="3.50"/>
<rect x="318.05" y="445.75" width="3.50" height="3.50"/>
<rect x="325.45" y="443.45" width="3.50" height="3.50"/>
<rect x="325.45" y="445.75" width="3.50" height="3.50"/>
<rect x="331.45" y="445.75" width="3.50" height="3.50"/>
<rect x="315.95" y="447.75" width="3.50" height="3.50"/>
<rect x="321.25" y="447.75" width="3.50" height="3.50"/>
<rect x="328.25" y="447.75" width="3.50" height="3.50"/>
<rect x="333.45" y="447.75" width="3.50" height="3.50"/>
<path d="M361.00 397.88L363.00 401.88L359.00 401.88Z"/>
<path d="M366.80 401.28L368.80 405.28L364.80 405.28Z"/>
<path d="M360.90 416.18L362.90 420.18L358.90 420.18Z"/>
<path d="M363.80 419.68L365.80 423.68L361.80 423.68Z"/>
<path d="M367.00 417.58L369.00 421.58L365.00 421.58Z"/>
<path d="M372.40 417.58L374.40 421.58L370.40 421.58Z"/>
<path d="M375.70 419.28L377.70 423.28L373.70 423.28Z"/>
<path d="M360.90 422.68L362.90 426.68L358.90 426.68Z"/>
<path d="M370.00 422.18L372.00 426.18L368.00 426.18Z"/>
<path d="M372.40 422.88L374.40 426.88L370.40 426.88Z"/>
<path d="M360.90 424.58L362.90 428.58L358.90 428.58Z"/>
<path d="M357.90 425.98L359.90 429.98L355.90 429.98Z"/>
<path d="M367.10 425.18L369.10 429.18L365.10 429.18Z"/>
<path d="M363.80 427.18L365.80 431.18L361.80 431.18Z"/>
<path d="M368.00 426.78L370.00 430.78L366.00 430.78Z"/>
<path d="M375.90 427.68L377.90 431.68L373.90 431.68Z"/>
<path d="M360.90 430.58L362.90 434.58L358.90 434.58Z"/>
<path d="M360.90 432.68L362.90 436.68L358.90 436.68Z"/>
<path d="M363.80 432.28L365.80 436.28L361.80 436.28Z"/>
<path d="M367.10 430.98L369.10 434.98L365.10 434.98Z"/>
<path d="M370.00 431.38L372.00 435.38L368.00 435.38Z"/>
<path d="M372.70 430.58L374.70 434.58L370.70 434.58Z"/>
<path d="M375.70 432.68L377.70 436.68L373.70 436.68Z"/>
<path d="M370.00 433.88L372.00 437.88L368.00 437.88Z"/>
<path d="M360.90 435.58L362.90 439.58L358.90 439.58Z"/>
<path d="M366.70 438.08L368.70 442.08L364.70 442.08Z"/>
<path d="M357.90 439.38L359.90 443.38L355.90 443.38Z"/>
<path d="M364.20 440.38L366.20 444.38L362.20 444.38Z"/>
<path d="M366.70 439.78L368.70 443.78L364.70 443.78Z"/>
<path d="M369.20 440.58L371.20 444.58L367.20 444.58Z"/>
<path d="M374.60 439.38L376.60 443.38L372.60 443.38Z"/>
<path d="M360.90 443.08L362.90 447.08L358.90 447.08Z"/>
<path d="M372.40 443.08L374.40 447.08L370.40 447.08Z"/>
<path d="M366.70 444.78L368.70 448.78L364.70 448.78Z"/>
<path d="M406.50 405.52L408.50 401.52L404.50 401.52Z"/>
<path d="M412.50 427.02L414.50 423.02L410.50 423.02Z"/>
<path d="M400.60 429.72L402.60 425.72L398.60 425.72Z"/>
<path d="M406.50 429.72L408.50 425.72L404.50 425.72Z"/>
<path d="M406.50 437.82L408.50 433.82L404.50 433.82Z"/>
<path d="M409.50 439.62L411.50 435.62L407.50 435.62Z"/>
<path d="M412.50 438.52L414.50 434.52L410.50 434.52Z"/>
<path d="M400.60 439.62L402.60 435.62L398.60 435.62Z"/>
<path d="M400.60 443.32L402.60 439.32L398.60 439.32Z"/>
<path d="M406.50 444.42L408.50 440.42L404.50 440.42Z"/>
<path d="M409.50 446.72L411.50 442.72L407.50 442.72Z"/>
<path d="M400.60 447.82L402.60 443.82L398.60 443.82Z"/>
<path d="M412.50 449.82L414.50 445.82L410.50 445.82Z"/>
<path d="M406.50 451.22L408.50 447.22L404.50 447.22Z"/>
<path d="M446.00 319.21L447.89 321.10L446.00 322.99L444.11 321.10Z"/>
<path d="M446.00 360.51L447.89 362.40L446.00 364.29L444.11 362.40Z"/>
<path d="M440.00 424.51L441.89 426.40L440.00 428.29L438.11 426.40Z"/>
<path d="M443.20 424.51L445.09 426.40L443.20 428.29L441.31 426.40Z"/>
<path d="M449.30 424.51L451.19 426.40L449.30 428.29L447.41 426.40Z"/>
<path d="M455.50 424.51L457.39 426.40L455.50 428.29L453.61 426.40Z"/>
<path d="M446.20 428.01L448.09 429.90L446.20 431.79L444.31 429.90Z"/>
<path d="M452.30 426.61L454.19 428.50L452.30 430.39L450.41 428.50Z"/>
<path d="M452.30 433.01L454.19 434.90L452.30 436.79L450.41 434.90Z"/>
<path d="M440.00 436.11L441.89 438.00L440.00 439.89L438.11 438.00Z"/>
<path d="M440.00 437.71L441.89 439.60L440.00 441.49L438.11 439.60Z"/>
<path d="M446.20 436.41L448.09 438.30L446.20 440.19L444.31 438.30Z"/>
<path d="M446.20 442.81L448.09 444.70L446.20 446.59L444.31 444.70Z"/>
<path d="M452.30 442.81L454.19 444.70L452.30 446.59L450.41 444.70Z"/>
<circle cx="479.60" cy="431.40" r="1.75"/>
<circle cx="485.60" cy="434.50" r="1.75"/>
<circle cx="491.40" cy="434.30" r="1.75"/>
<circle cx="476.60" cy="435.90" r="1.75"/>
<circle cx="494.60" cy="435.90" r="1.75"/>
<circle cx="479.60" cy="439.60" r="1.75"/>
<circle cx="482.50" cy="438.00" r="1.75"/>
<circle cx="488.50" cy="438.00" r="1.75"/>
<circle cx="491.40" cy="438.60" r="1.75"/>
<circle cx="485.60" cy="441.20" r="1.75"/>
<circle cx="491.40" cy="443.00" r="1.75"/>
<circle cx="485.60" cy="447.90" r="1.75"/>
</g>
<line x1="33.70" y1="169.50" x2="61.50" y2="169.50" stroke="#000" stroke-width="1.4"/>
<line x1="74.10" y1="164.50" x2="101.50" y2="164.50" stroke="#000" stroke-width="1.4"/>
<line x1="113.80" y1="164.50" x2="141.60" y2="164.50" stroke="#000" stroke-width="1.4"/>
<line x1="153.90" y1="150.50" x2="181.50" y2="150.50" stroke="#000" stroke-width="1.4"/>
<line x1="194.00" y1="170.50" x2="220.60" y2="170.50" stroke="#000" stroke-width="1.4"/>
<line x1="318.50" y1="179.50" x2="341.00" y2="179.50" stroke="#000" stroke-width="2.0"/>
<line x1="357.60" y1="157.50" x2="386.40" y2="157.50" stroke="#000" stroke-width="1.4"/>
<line x1="399.60" y1="179.50" x2="428.00" y2="179.50" stroke="#000" stroke-width="2.0"/>
<line x1="441.60" y1="141.50" x2="470.20" y2="141.50" stroke="#000" stroke-width="1.4"/>
<line x1="486.30" y1="179.50" x2="509.40" y2="179.50" stroke="#000" stroke-width="2.0"/>
<line x1="38.80" y1="414.50" x2="65.90" y2="414.50" stroke="#000" stroke-width="1.4"/>
<line x1="78.80" y1="427.50" x2="105.90" y2="427.50" stroke="#000" stroke-width="1.4"/>
<line x1="118.80" y1="413.50" x2="146.00" y2="413.50" stroke="#000" stroke-width="1.4"/>
<line x1="159.00" y1="427.50" x2="186.00" y2="427.50" stroke="#000" stroke-width="1.4"/>
<line x1="199.00" y1="426.50" x2="226.20" y2="426.50" stroke="#000" stroke-width="1.4"/>
<line x1="313.70" y1="443.50" x2="340.60" y2="443.50" stroke="#000" stroke-width="1.4"/>
<line x1="353.30" y1="431.50" x2="380.20" y2="431.50" stroke="#000" stroke-width="1.4"/>
<line x1="393.20" y1="436.50" x2="420.10" y2="436.50" stroke="#000" stroke-width="1.4"/>
<line x1="432.40" y1="420.50" x2="459.90" y2="420.50" stroke="#000" stroke-width="1.4"/>
<line x1="472.40" y1="438.50" x2="499.70" y2="438.50" stroke="#000" stroke-width="1.4"/>
</svg>
</body></html>
